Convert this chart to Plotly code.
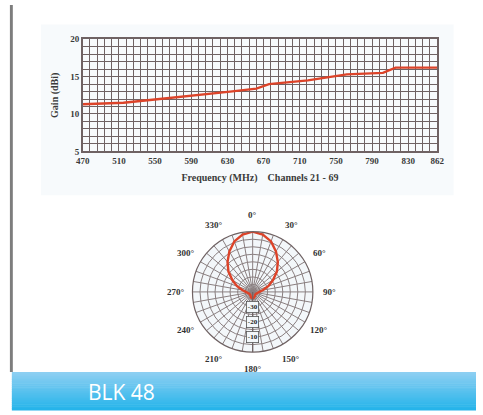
import math
import plotly.graph_objects as go

# Gain vs frequency (UHF channels 21-69)
freq_mhz = [470, 515, 547, 580, 615, 633, 662, 676, 719, 744, 762, 802, 816, 862]
gain_dbi = [11.3, 11.5, 11.9, 12.3, 12.8, 13.0, 13.4, 14.0, 14.5, 15.0, 15.3, 15.5, 16.2, 16.2]
freq_ticks = [470, 510, 550, 590, 630, 670, 710, 750, 790, 830, 862]
gain_ticks = [5, 10, 15, 20]

# Horizontal radiation pattern (relative dB)
pattern_deg = list(range(0, 361, 10))
pattern_db = [0, -1.3, -4.3, -9, -14, -19, -24.5, -29, -33, -35.5, -36.5, -37, -37.5, -37.5,
              -37.5, -37, -36.5, -36, -36, -36, -36.5, -37, -37.5, -37.5, -37.5, -37,
              -36.5, -35.5, -33, -29, -24.5, -19, -14, -9, -4.3, -1.3, 0]
ring_vals = [-35, -30, -25, -20, -15, -10, -5, 0]
ring_labels = [-30, -20, -10]
spoke_vals = list(range(0, 360, 10))
compass_labels = list(range(0, 360, 30))

W, H = 483, 415
GRID = "#6f6263"
RED = "#dc4329"
SERIF = "Liberation Serif"
R_MIN, R_MAX = -40, 0

# polar chart placement (pixels)
PCX, PCY, PR = 253, 294, 62


def px(x):
    return x / W


def py(y):
    return 1 - y / H


fig = go.Figure()

fig.add_trace(go.Scatter(
    x=freq_mhz, y=gain_dbi, mode="lines",
    line=dict(color=RED, width=2.3), xaxis="x", yaxis="y", showlegend=False,
))

fig.add_trace(go.Scatterpolar(
    theta=pattern_deg, r=pattern_db, mode="lines",
    line=dict(color=RED, width=2.4), subplot="polar", showlegend=False,
))

fig.update_layout(
    width=W, height=H,
    margin=dict(l=0, r=0, t=0, b=0),
    paper_bgcolor="white",
    plot_bgcolor="#f1f6fa",
    xaxis=dict(
        domain=[px(78), px(443)], anchor="y",
        range=[470, 862], tickvals=freq_ticks,
        ticktext=[f"<b>{v}</b>" for v in freq_ticks],
        showgrid=True, gridcolor=GRID, gridwidth=1.3,
        minor=dict(tick0=470, dtick=8, showgrid=True, gridcolor=GRID, gridwidth=1.3),
        showline=True, linecolor=GRID, linewidth=1.5, mirror=True,
        ticks="", tickfont=dict(family=SERIF, size=9, color="#3a3a3a"),
        title=dict(text="<b>Frequency (MHz)    Channels 21 - 69</b>",
                   font=dict(family=SERIF, size=10, color="#3a3a3a"), standoff=9),
        zeroline=False,
    ),
    yaxis=dict(
        domain=[py(150), py(35)], anchor="x",
        range=[5, 20], tickvals=gain_ticks,
        ticktext=[f"<b>{v}</b>" for v in gain_ticks],
        showgrid=True, gridcolor=GRID, gridwidth=1.3,
        minor=dict(tick0=5, dtick=1, showgrid=True, gridcolor=GRID, gridwidth=1.3),
        showline=True, linecolor=GRID, linewidth=1.5, mirror=True,
        ticks="", tickfont=dict(family=SERIF, size=9, color="#3a3a3a"),
        title=dict(text="<b>Gain (dBi)</b>",
                   font=dict(family=SERIF, size=10, color="#3a3a3a"), standoff=10),
        zeroline=False,
    ),
    polar=dict(
        domain=dict(x=[px(PCX - PR), px(PCX + PR)], y=[py(PCY + PR), py(PCY - PR)]),
        bgcolor="#f3f7fa",
        angularaxis=dict(
            rotation=90, direction="clockwise",
            tickvals=spoke_vals, showticklabels=False,
            gridcolor="#8a7f80", gridwidth=0.8,
            showline=True, linecolor=GRID, linewidth=1.2, ticks="",
        ),
        radialaxis=dict(
            range=[R_MIN, R_MAX], tickvals=ring_vals, showticklabels=False,
            angle=-90,
            gridcolor="#8a7f80", gridwidth=0.8,
            showline=True, linecolor=GRID, linewidth=1.2, ticks="",
        ),
    ),
)

shapes = []
# faint panel behind the gain chart
shapes.append(dict(type="rect", xref="paper", yref="paper", layer="below",
                   x0=px(35), x1=px(460), y0=py(195), y1=py(20),
                   fillcolor="#f7fafc", line=dict(width=0)))
# left rule
shapes.append(dict(type="rect", xref="paper", yref="paper",
                   x0=px(3), x1=px(6), y0=py(376), y1=1,
                   fillcolor="#7d7d7d", line=dict(width=0)))
# gradient footer band
top_rgb = (141, 207, 242)
bot_rgb = (38, 180, 234)
steps = 20
band_top, band_bot = 376, 415
for i in range(steps):
    t = i / (steps - 1)
    c = tuple(round(top_rgb[k] + (bot_rgb[k] - top_rgb[k]) * t) for k in range(3))
    y0 = band_top + (band_bot - band_top) * i / steps
    y1 = band_top + (band_bot - band_top) * (i + 1) / steps
    shapes.append(dict(type="rect", xref="paper", yref="paper",
                       x0=px(5), x1=1, y0=py(y1 + 0.5), y1=py(y0),
                       fillcolor=f"rgb{c}", line=dict(width=0)))
fig.update_layout(shapes=shapes)

# compass labels placed just outside the outer ring
LABEL_R = PR + 17
for deg in compass_labels:
    a = math.radians(deg)
    lx = PCX + LABEL_R * math.sin(a)
    ly = PCY - LABEL_R * math.cos(a)
    fig.add_annotation(text=f"<b>{deg}°</b>", xref="paper", yref="paper",
                       x=px(lx), y=py(ly), xanchor="center", yanchor="middle",
                       showarrow=False,
                       font=dict(family=SERIF, size=9, color="#333333"))

# ring values along the 180° spoke
for v in ring_labels:
    ry = PCY + PR * (v - R_MIN) / (R_MAX - R_MIN)
    fig.add_annotation(text=f"<b>{v}</b>", xref="paper", yref="paper",
                       x=px(PCX), y=py(ry), xanchor="center", yanchor="middle",
                       showarrow=False, bgcolor="#f3f7fa", borderpad=1,
                       bordercolor="#555555", borderwidth=0.8,
                       font=dict(family=SERIF, size=7, color="#222222"))

fig.add_annotation(text="BLK 48", xref="paper", yref="paper",
                   x=px(81), y=py(397), xanchor="left", yanchor="middle",
                   showarrow=False, font=dict(family="Open Sans", size=21, color="white"))

fig.write_html("out.html")
